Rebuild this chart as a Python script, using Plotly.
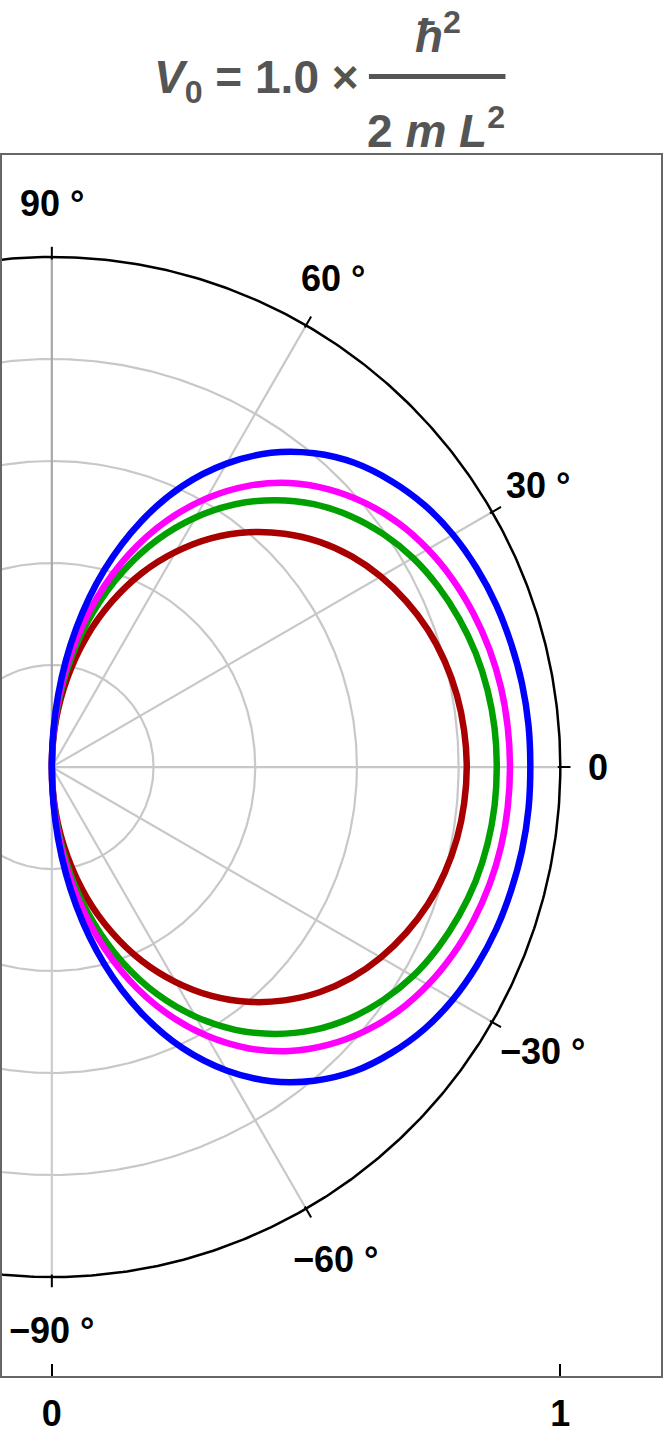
import numpy as np
import plotly.graph_objects as go

theta_deg = list(range(-90, 95, 5))

r_blue = [0, 0.141, 0.276, 0.401, 0.512, 0.608, 0.687, 0.752, 0.803, 0.843, 0.872,
          0.895, 0.911, 0.922, 0.930, 0.935, 0.939, 0.941, 0.941,
          0.941, 0.939, 0.935, 0.930, 0.922, 0.911, 0.895, 0.872, 0.843, 0.803,
          0.752, 0.687, 0.608, 0.512, 0.401, 0.276, 0.141, 0]
r_magenta = [0, 0.120, 0.235, 0.344, 0.444, 0.532, 0.608, 0.673, 0.727, 0.770, 0.805,
             0.833, 0.854, 0.870, 0.882, 0.891, 0.897, 0.900, 0.901,
             0.900, 0.897, 0.891, 0.882, 0.870, 0.854, 0.833, 0.805, 0.770, 0.727,
             0.673, 0.608, 0.532, 0.444, 0.344, 0.235, 0.120, 0]
r_green = [0, 0.109, 0.215, 0.315, 0.408, 0.492, 0.565, 0.629, 0.683, 0.729, 0.766,
           0.796, 0.820, 0.838, 0.852, 0.863, 0.870, 0.874, 0.875,
           0.874, 0.870, 0.863, 0.852, 0.838, 0.820, 0.796, 0.766, 0.729, 0.683,
           0.629, 0.565, 0.492, 0.408, 0.315, 0.215, 0.109, 0]
r_red = [0, 0.091, 0.179, 0.265, 0.345, 0.420, 0.487, 0.548, 0.601, 0.647, 0.687,
         0.720, 0.747, 0.769, 0.787, 0.800, 0.809, 0.814, 0.816,
         0.814, 0.809, 0.800, 0.787, 0.769, 0.747, 0.720, 0.687, 0.647, 0.601,
         0.548, 0.487, 0.420, 0.345, 0.265, 0.179, 0.091, 0]

grid_r = [0.2, 0.4, 0.6, 0.8]
spoke_deg = [-60, -30, 0, 30, 60]
tick_deg = [90, 60, 30, 0, -30, -60, -90]
tick_labels = ["90 °", "60 °", "30 °", "0", "−30 °", "−60 °", "−90 °"]

FONT = "Liberation Sans"
th = np.radians(theta_deg)


def px(xp):
    return (xp - 2) / 661


def py(yp):
    return (1376 - yp) / 1221


fig = go.Figure()

t = np.linspace(0, 2 * np.pi, 721)
for rr in grid_r:
    fig.add_trace(go.Scatter(x=rr * np.cos(t), y=rr * np.sin(t), mode="lines",
                             line=dict(color="#c8c8c8", width=2.2),
                             hoverinfo="skip", showlegend=False))
for a in spoke_deg:
    ar = np.radians(a)
    fig.add_trace(go.Scatter(x=[0, np.cos(ar)], y=[0, np.sin(ar)], mode="lines",
                             line=dict(color="#c8c8c8", width=2.2),
                             hoverinfo="skip", showlegend=False))
# vertical axis line (upper half a bit darker)
fig.add_trace(go.Scatter(x=[0, 0], y=[0, -1], mode="lines",
                         line=dict(color="#cccccc", width=2.2),
                         hoverinfo="skip", showlegend=False))
fig.add_trace(go.Scatter(x=[0, 0], y=[0, 1], mode="lines",
                         line=dict(color="#a8a8a8", width=2.2),
                         hoverinfo="skip", showlegend=False))
# outer circle
fig.add_trace(go.Scatter(x=np.cos(t), y=np.sin(t), mode="lines",
                         line=dict(color="black", width=2.5),
                         hoverinfo="skip", showlegend=False))
# ticks on the outer circle
for a in tick_deg:
    ar = np.radians(a)
    fig.add_trace(go.Scatter(x=[0.995 * np.cos(ar), 1.02 * np.cos(ar)],
                             y=[0.995 * np.sin(ar), 1.02 * np.sin(ar)], mode="lines",
                             line=dict(color="black", width=2),
                             hoverinfo="skip", showlegend=False))

for r, col in [(r_red, "#a80000"), (r_green, "#00a000"),
               (r_magenta, "#ff00ff"), (r_blue, "#0000ff")]:
    r = np.array(r)
    fig.add_trace(go.Scatter(x=r * np.cos(th), y=r * np.sin(th), mode="lines",
                             line=dict(color=col, width=6.5, shape="spline", smoothing=1),
                             showlegend=False))

# angle labels
lfont = dict(family=FONT, size=36, color="black", weight="bold")
for a, lab in zip(tick_deg, tick_labels):
    ar = np.radians(a)
    if lab == "0":
        fig.add_annotation(x=1.05, y=0, text=lab, showarrow=False, xanchor="left",
                           yanchor="middle", font=lfont)
    else:
        rl = 1.115 if a < 0 and a > -90 else 1.105
        fig.add_annotation(x=rl * np.cos(ar), y=rl * np.sin(ar), text=lab, showarrow=False,
                           xanchor="center", yanchor="middle", font=lfont)

# title: V0 = 1.0 x hbar^2 / (2 m L^2)
tfont = dict(family=FONT, size=46, color="#555555", weight="bold")
fig.add_annotation(xref="paper", yref="paper", x=px(152), y=py(80), xanchor="left", yanchor="middle",
                   text="<i>V</i><sub>0</sub> = 1.0 ×", showarrow=False, font=tfont)
fig.add_annotation(xref="paper", yref="paper", x=px(439), y=py(33), xanchor="center", yanchor="middle",
                   text="<i>ħ</i><sup>2</sup>", showarrow=False, font=tfont)
fig.add_annotation(xref="paper", yref="paper", x=px(437), y=py(128), xanchor="center", yanchor="middle",
                   text="2 <i>m</i> <i>L</i><sup>2</sup>", showarrow=False, font=tfont)
fig.add_shape(type="line", xref="paper", yref="paper", x0=px(370), x1=px(507),
              y0=py(76.5), y1=py(76.5), line=dict(color="#555555", width=5))

fig.update_layout(
    width=665, height=1440,
    margin=dict(l=2, r=2, t=155, b=64),
    plot_bgcolor="white", paper_bgcolor="white",
    xaxis=dict(range=[-0.098, 1.198], showgrid=False, zeroline=False,
               tickvals=[0, 1], ticktext=["0", "1"], ticks="inside", ticklen=12,
               tickwidth=1.5, tickcolor="black", showline=True, mirror=True,
               linecolor="#666666", linewidth=2, ticklabelstandoff=5,
               tickfont=dict(family=FONT, size=36, color="black", weight="bold")),
    yaxis=dict(range=[-1.194, 1.2], showgrid=False, zeroline=False, showticklabels=False,
               ticks="", showline=True, mirror=True, linecolor="#666666", linewidth=2),
)

fig.write_html("out.html", config={"displayModeBar": False},
               post_script="document.body.style.margin='0';")
